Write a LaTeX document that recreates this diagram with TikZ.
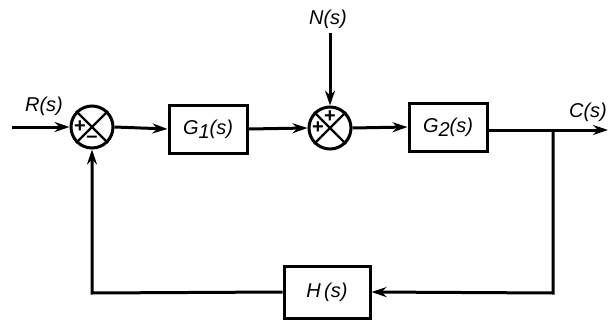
\documentclass[tikz,border=0pt]{standalone}
\usepackage{fontspec}
\setmainfont{Liberation Sans}
\usetikzlibrary{arrows.meta,calc}
\begin{document}
\begin{tikzpicture}[x=1pt,y=-1pt,
  line width=3pt,
  blk/.style={draw,rectangle,minimum width=78pt,minimum height=48pt,font=\fontsize{20}{23}\selectfont\itshape,inner sep=0pt},
  sumj/.style={draw,circle,minimum size=42pt,inner sep=0pt},
  lbl/.style={font=\fontsize{20}{23}\selectfont\itshape,inner sep=0pt},
  sgn/.style={font=\fontsize{20}{20}\selectfont\bfseries,inner sep=0pt},
  arr/.style={-{Stealth[length=15pt,width=10pt]}}]
\useasboundingbox (0,0) rectangle (610,324);
\node[sumj] (s1) at (92,127) {};
\node[blk] (g1) at (208,129) {G\raisebox{-0.4ex}{1}(s)};
\node[sumj] (s2) at (330,128) {};
\node[blk] (g2) at (448,127) {G\raisebox{-0.4ex}{2}(s)};
\node[blk,minimum width=86pt,minimum height=52pt] (h) at (327,292) {H\,(s)};
\node[lbl] (r) at (44,106) {R(s)};
\node[lbl] (n) at (328,19) {N(s)};
\node[lbl] (c) at (588,112) {C(s)};
\coordinate (in) at (12,127);
\coordinate (ntop) at (330,33);
\coordinate (out) at (608,130);
\coordinate (br) at (553,130);
\coordinate (fbr) at (553,293);
\coordinate (fbl) at (92,293);
% X lines in summing junctions
\foreach \s in {s1,s2}{
  \draw[line width=2.2pt] (\s.north west) -- (\s.south east);
  \draw[line width=2.2pt] (\s.north east) -- (\s.south west);
}
\node[sgn] at ($(s1.center)+(-12,0)$) {+};
\node[sgn] at ($(s1.center)+(0,12)$) {--};
\node[sgn] at ($(s2.center)+(-12,0)$) {+};
\node[sgn] at ($(s2.center)+(0,-11)$) {+};
\draw[arr] (in) -- (s1.west);
\draw[arr] (s1.east) -- (g1.west);
\draw[arr] (g1.east) -- (s2.west);
\draw[arr] (ntop) -- (s2.north);
\draw[arr] (s2.east) -- (g2.west);
\draw[arr] (g2.east |- out) -- (out);
\draw[arr] (br) -- (fbr) -- (h.east);
\draw[arr] (h.west) -- (fbl) -- (s1.south);
\end{tikzpicture}
\end{document}
